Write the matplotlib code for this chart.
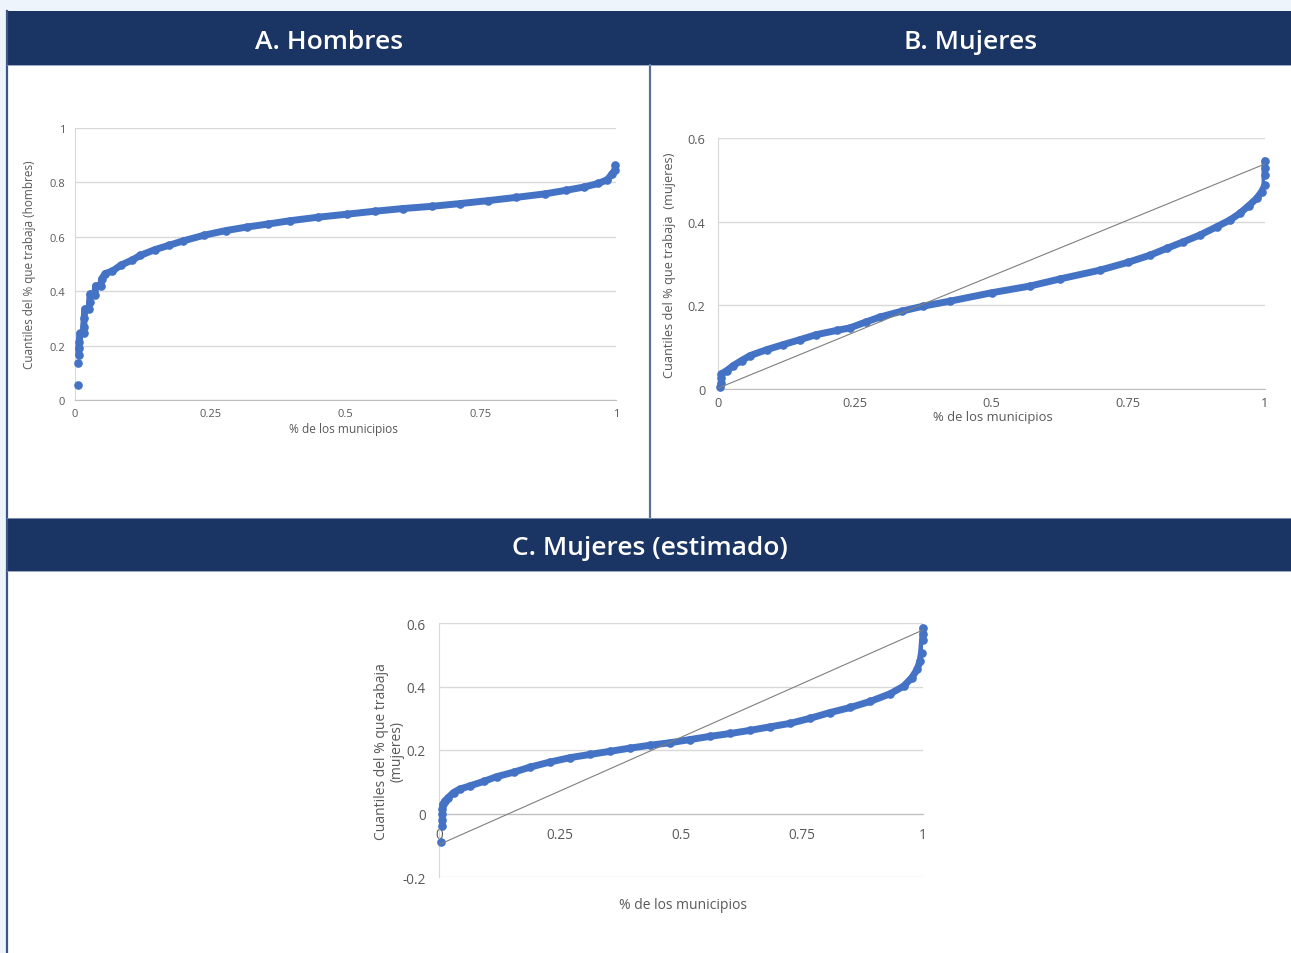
import matplotlib
matplotlib.use("Agg")
import matplotlib.pyplot as plt
from matplotlib.patches import Rectangle

# ---- data -------------------------------------------------------------
# Panel A: quantiles of the share of men who work
pct_h = [0.005, 0.006, 0.007, 0.007, 0.008, 0.009, 0.016, 0.016, 0.017, 0.018,
         0.026, 0.027, 0.028, 0.037, 0.038, 0.048, 0.049, 0.056, 0.069, 0.085,
         0.105, 0.121, 0.148, 0.174, 0.200, 0.239, 0.279, 0.318, 0.357, 0.397,
         0.449, 0.502, 0.554, 0.607, 0.659, 0.711, 0.764, 0.816, 0.869, 0.908,
         0.941, 0.967, 0.984, 0.993, 0.998, 0.999]
q_h = [0.055, 0.135, 0.165, 0.190, 0.215, 0.245, 0.245, 0.270, 0.300, 0.335,
       0.335, 0.360, 0.390, 0.385, 0.420, 0.420, 0.445, 0.465, 0.474, 0.496,
       0.514, 0.532, 0.553, 0.569, 0.585, 0.606, 0.623, 0.636, 0.647, 0.659,
       0.672, 0.683, 0.694, 0.704, 0.712, 0.722, 0.733, 0.745, 0.758, 0.771,
       0.783, 0.796, 0.810, 0.832, 0.845, 0.863]

# Panel B: quantiles of the share of women who work
pct_m = [0.004, 0.005, 0.006, 0.006, 0.016, 0.028, 0.043, 0.059, 0.089, 0.119,
         0.150, 0.180, 0.217, 0.241, 0.270, 0.296, 0.336, 0.375, 0.424, 0.500,
         0.570, 0.625, 0.698, 0.750, 0.790, 0.820, 0.851, 0.881, 0.912, 0.936,
         0.954, 0.970, 0.985, 0.994, 1.000, 1.000, 1.000, 1.000]
q_m = [0.005, 0.015, 0.027, 0.036, 0.044, 0.056, 0.068, 0.080, 0.094, 0.106,
       0.118, 0.130, 0.140, 0.146, 0.160, 0.172, 0.186, 0.198, 0.210, 0.230,
       0.246, 0.263, 0.284, 0.303, 0.320, 0.336, 0.352, 0.368, 0.388, 0.404,
       0.420, 0.438, 0.456, 0.472, 0.488, 0.512, 0.528, 0.546]
ref_m = [0.002, 0.538]

# Panel C: quantiles of the estimated share of women who work
pct_e = [0.004, 0.006, 0.006, 0.007, 0.007, 0.008, 0.012, 0.019, 0.030, 0.043,
         0.064, 0.092, 0.119, 0.154, 0.188, 0.229, 0.271, 0.312, 0.354, 0.395,
         0.436, 0.478, 0.519, 0.560, 0.602, 0.643, 0.684, 0.726, 0.767, 0.808,
         0.850, 0.891, 0.932, 0.960, 0.977, 0.988, 0.994, 0.997, 0.999, 1.000,
         1.000]
q_e = [-0.090, -0.040, -0.020, 0.000, 0.015, 0.029, 0.039, 0.050, 0.066, 0.077,
       0.087, 0.101, 0.116, 0.130, 0.146, 0.162, 0.176, 0.186, 0.196, 0.206,
       0.215, 0.223, 0.233, 0.243, 0.252, 0.262, 0.273, 0.284, 0.300, 0.318,
       0.334, 0.353, 0.377, 0.401, 0.428, 0.454, 0.481, 0.507, 0.545, 0.565,
       0.585]
ref_e = [-0.098, 0.578]

x_ticks = [0, 0.25, 0.5, 0.75, 1]
x_ticklabels = ["0", "0.25", "0.5", "0.75", "1"]

titles = ["A. Hombres", "B. Mujeres", "C. Mujeres (estimado)"]
xlabel = "% de los municipios"
ylabels = ["Cuantiles del % que trabaja (hombres)",
           "Cuantiles del % que trabaja  (mujeres)",
           "Cuantiles del % que trabaja\n(mujeres)"]

# ---- style ------------------------------------------------------------
W, H = 1291, 954
NAVY = "#1A3563"
BLUE = "#4472C4"
GRID = "#D9D9D9"
TXT = "#595959"
FONT = ["Open Sans", "DejaVu Sans"]
plt.rcParams["font.family"] = FONT

fig = plt.figure(figsize=(W / 100, H / 100), dpi=100)
fig.patch.set_facecolor("white")

# background canvas in pixel units
bg = fig.add_axes([0, 0, 1, 1])
bg.set_xlim(0, W)
bg.set_ylim(H, 0)
bg.axis("off")
bg.add_patch(Rectangle((0, 0), W, 12, color="#EEF4FB", lw=0))
bg.add_patch(Rectangle((0, 0), 6, H, color="#EEF4FB", lw=0))
bg.add_patch(Rectangle((7, 12), W - 7, 54, color=NAVY, lw=0))
bg.add_patch(Rectangle((7, 519), W - 7, 53, color=NAVY, lw=0))
bg.plot([6.8, 6.8], [12, H], color="#3E5686", lw=1.6)
bg.plot([650, 650], [66, 519], color="#5B6F98", lw=1.6)
bg.plot([7, W], [66, 66], color="#8C9AB8", lw=0.6)
bg.plot([7, W], [519, 519], color="#8C9AB8", lw=0.6)
bg.plot([7, W], [572, 572], color="#8C9AB8", lw=0.6)

title_kw = dict(color="white", fontsize=19, fontweight="semibold",
                ha="center", va="center")
bg.text(329, 42.5, titles[0], **title_kw)
bg.text(971, 42.5, titles[1], **title_kw)
bg.text(650, 548.5, titles[2], **title_kw)


def make_axes(left, right, top, bottom):
    return fig.add_axes([left / W, 1 - bottom / H, (right - left) / W,
                         (bottom - top) / H])


def style(ax, ylim, yticks, fs, ypad, xpad):
    ax.set_xlim(0, 1)
    ax.set_ylim(*ylim)
    ax.set_xticks(x_ticks)
    ax.set_xticklabels(x_ticklabels)
    ax.set_yticks(yticks)
    ax.set_yticklabels([f"{t:g}" for t in yticks])
    ax.grid(axis="y", color=GRID, lw=1.0)
    ax.set_axisbelow(True)
    for s in ("top", "right"):
        ax.spines[s].set_visible(False)
    ax.spines["left"].set_color(GRID)
    ax.spines["bottom"].set_color("#BFBFBF")
    ax.tick_params(axis="both", length=0, labelsize=fs, colors=TXT)
    ax.tick_params(axis="y", pad=ypad)
    ax.tick_params(axis="x", pad=xpad)


MS, LW = 5.2, 5.0

# Panel A
axA = make_axes(75, 616, 129, 401)
style(axA, (0, 1), [0, 0.2, 0.4, 0.6, 0.8, 1], 8.0, 7, 6)
axA.plot(pct_h[2:], q_h[2:], color=BLUE, lw=LW, solid_capstyle="round", zorder=3)
axA.plot(pct_h, q_h, "o", color=BLUE, ms=MS, zorder=4, clip_on=False)
fig.text(30 / W, 1 - 265 / H, ylabels[0], rotation=90, fontsize=8.5,
         color=TXT, ha="center", va="center")
fig.text(343 / W, 1 - 430 / H, xlabel, fontsize=8.6, color=TXT,
         ha="center", va="center")

# Panel B
axB = make_axes(718, 1265, 139, 390)
style(axB, (0, 0.6), [0, 0.2, 0.4, 0.6], 9.2, 9, 5)
axB.plot([0, 1], ref_m, color="#7F7F7F", lw=0.8, zorder=5)
axB.plot(pct_m, q_m, color=BLUE, lw=LW, solid_capstyle="round", zorder=3)
axB.plot(pct_m, q_m, "o", color=BLUE, ms=MS, zorder=4, clip_on=False)
fig.text(669 / W, 1 - 265 / H, ylabels[1], rotation=90, fontsize=9.2,
         color=TXT, ha="center", va="center")
fig.text(993 / W, 1 - 418 / H, xlabel, fontsize=9.4, color=TXT,
         ha="center", va="center")

# Panel C
axC = make_axes(439, 923, 624, 878)
style(axC, (-0.2, 0.6), [-0.2, 0, 0.2, 0.4, 0.6], 9.8, 9.5, 10)
axC.spines["bottom"].set_position(("data", 0))
axC.plot([0, 1], ref_e, color="#7F7F7F", lw=0.8, zorder=5)
axC.plot(pct_e[1:], q_e[1:], color=BLUE, lw=LW, solid_capstyle="round", zorder=3)
axC.plot(pct_e, q_e, "o", color=BLUE, ms=MS, zorder=4, clip_on=False)
fig.text(389 / W, 1 - 752 / H, ylabels[2], rotation=90, fontsize=10,
         color=TXT, ha="center", va="center", linespacing=1.0)
fig.text(683 / W, 1 - 906 / H, xlabel, fontsize=10, color=TXT,
         ha="center", va="center")

fig.savefig("out.png", dpi=100, facecolor="white")
